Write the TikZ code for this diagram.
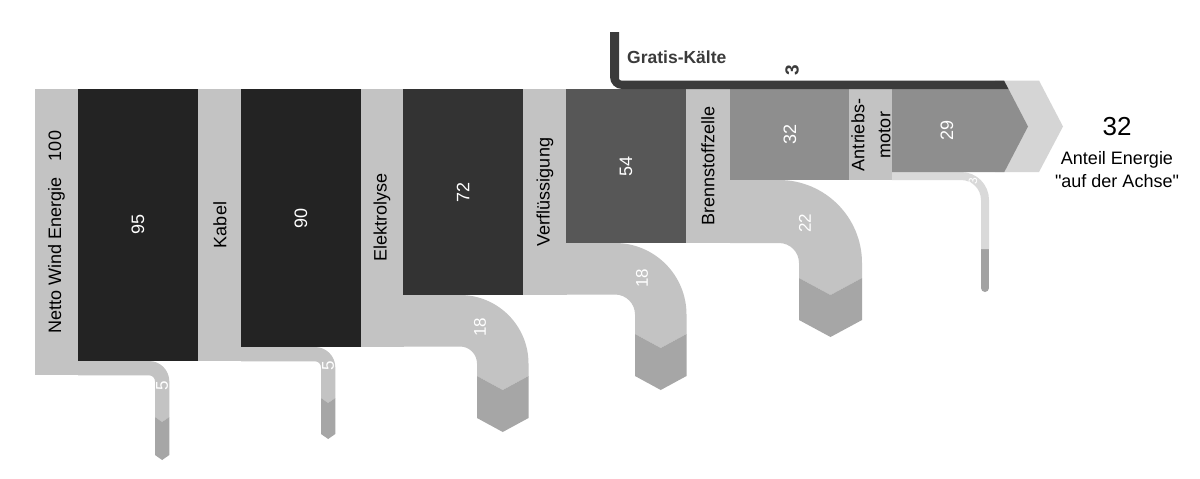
\documentclass[tikz,border=0pt]{standalone}
\usepackage{fontspec}
\setmainfont{Liberation Sans}
\newcommand{\sq}{\XeTeXglyph\XeTeXcharglyph"22\relax}
\definecolor{band}{HTML}{C3C3C3}
\definecolor{pipedarkc}{HTML}{A6A6A6}
\definecolor{boxA}{HTML}{232323}
\definecolor{boxB}{HTML}{333333}
\definecolor{boxC}{HTML}{575757}
\definecolor{boxD}{HTML}{8E8E8E}
\definecolor{gratis}{HTML}{3B3B3B}
\definecolor{arrowlight}{HTML}{D5D5D5}
\definecolor{lossSixLight}{HTML}{D9D9D9}
\definecolor{lossSixDark}{HTML}{A2A2A2}
\tikzset{
  pipelight/.style={fill=band},
  pipedark/.style={fill=pipedarkc},
  lbl/.style={inner sep=0pt, text=black, font=\fontsize{18}{26}\selectfont},
  num/.style={inner sep=0pt, text=white, font=\fontsize{18}{22}\selectfont},
  lossnum/.style={inner sep=0pt, text=white, font=\fontsize{17}{20}\selectfont},
}
% #1 xa, #2 yt, #3 w, #4 cx, #5 ri, #6 y1, #7 y2, #8 d
\newcommand{\losspipe}[8]{%
 \pgfmathsetmacro\pyb{#2+#3}%
 \pgfmathsetmacro\pro{#5+#3}%
 \pgfmathsetmacro\pcy{\pyb+#5}%
 \pgfmathsetmacro\pxi{#4+#5}%
 \pgfmathsetmacro\pxo{#4+\pro}%
 \pgfmathsetmacro\pxm{(\pxi+\pxo)/2}%
 \pgfmathsetmacro\pka{#4+0.5523*\pro}%
 \pgfmathsetmacro\pkb{\pcy-0.5523*\pro}%
 \pgfmathsetmacro\pkc{\pcy-0.5523*#5}%
 \pgfmathsetmacro\pkd{#4+0.5523*#5}%
 \pgfmathsetmacro\pva{#6+#8}%
 \pgfmathsetmacro\pvb{#7+#8}%
 \fill[pipelight] (#1,#2) -- (#4,#2) .. controls (\pka,#2) and (\pxo,\pkb) .. (\pxo,\pcy) -- (\pxo,#6) -- (\pxm,\pva) -- (\pxi,#6) -- (\pxi,\pcy) .. controls (\pxi,\pkc) and (\pkd,\pyb) .. (#4,\pyb) -- (#1,\pyb) -- cycle;
 \fill[pipedark] (\pxi,#6) -- (\pxm,\pva) -- (\pxo,#6) -- (\pxo,#7) -- (\pxm,\pvb) -- (\pxi,#7) -- cycle;
}
\begin{document}
\begin{tikzpicture}[x=1pt,y=-1pt]
\useasboundingbox (0,0) rectangle (1200,479);
\fill[white] (0,0) rectangle (1200,479);
% stage bands
\fill[band] (35,89) rectangle (78.5,375.3);
\fill[band] (197.5,89) rectangle (241.5,361.3);
\fill[band] (360.5,89) rectangle (403.5,346.5);
\fill[band] (522.5,89) rectangle (566.5,295);
\fill[band] (685.5,89) rectangle (730.5,243);
\fill[band] (848.5,89) rectangle (892.5,180);
% loss pipes
\losspipe{78}{361}{14.3}{149}{6}{417}{455}{5}
\losspipe{241}{347}{14.3}{315}{6}{398}{434}{5}
\losspipe{403}{295}{51.5}{460}{17}{376}{418}{14}
\losspipe{566}{243}{51.5}{615}{20}{334}{376}{14}
\losspipe{730}{180}{63}{779}{20}{278}{320}{17}
% small loss of the motor
\draw[lossSixDark, line width=8pt, line cap=round] (985,249) -- (985,288);
\draw[lossSixLight, line width=8pt] (892,176) -- (961,176) .. controls (974.3,176) and (985,186.7) .. (985,200) -- (985,249);
% boxes
\fill[boxA] (78,89) rectangle (198,361);
\fill[boxA] (241,89) rectangle (361,347);
\fill[boxB] (403,89) rectangle (523,295);
\fill[boxC] (566,89) rectangle (686,243);
\fill[boxD] (730,89) rectangle (849,180);
% final arrows
\fill[arrowlight] (995,80.5) -- (1039,80.5) -- (1063,126.5) -- (1039,172) -- (995,172) -- cycle;
\fill[boxD] (892,89) -- (1008.5,89) -- (1028,126.5) -- (1004.3,172) -- (892,172) -- cycle;
% gratis band
\fill[gratis] (610,32) -- (610,77) .. controls (610,83.6) and (615.4,89) .. (622,89) -- (1008.5,89) -- (1004,80.5) -- (621,80.5) .. controls (619.9,80.5) and (619,79.6) .. (619,78.5) -- (619,32) -- cycle;
% labels
\node[lbl, rotate=90] (netto) at (56.5,232) {Netto Wind Energie\hspace{16pt}100};
\node[lbl, rotate=90] (kabel) at (220,225) {Kabel};
\node[lbl, rotate=90] (elek) at (382,217) {Elektrolyse};
\node[lbl, rotate=90] (verf) at (545,192) {Verflüssigung};
\node[lbl, rotate=90] (brenn) at (708,166) {Brennstoffzelle};
\node[lbl, rotate=90, align=center] (antr) at (871,135) {Antriebs-\\motor};
% numbers
\node[num, rotate=90] (n95) at (138,224) {95};
\node[num, rotate=90] (n90) at (301,218) {90};
\node[num, rotate=90] (n72) at (463,192) {72};
\node[num, rotate=90] (n54) at (626,166) {54};
\node[num, rotate=90] (n32) at (790,134) {32};
\node[num, rotate=90] (n29) at (947,130) {29};
% loss numbers
\node[lossnum, rotate=90] (l1) at (162,386) {5};
\node[lossnum, rotate=90] (l2) at (328,366) {5};
\node[lossnum, rotate=90] (l3) at (480,327) {18};
\node[lossnum, rotate=90] (l4) at (642,278) {18};
\node[lossnum, rotate=90] (l5) at (805,223) {22};
\node[inner sep=0pt, text=white, font=\fontsize{12}{14}\selectfont, rotate=90] (l6) at (973,181) {3};
% gratis text
\node[inner sep=0pt, anchor=west, text=gratis, font=\bfseries\fontsize{17.5}{20}\selectfont] (gk) at (627,57) {Gratis-Kälte};
\node[inner sep=0pt, text=gratis, font=\bfseries\fontsize{19}{20}\selectfont, rotate=90] (g3) at (792,70) {3};
% result
\node[inner sep=0pt, font=\fontsize{26}{30}\selectfont] (tot) at (1117,127) {32};
\node[inner sep=0pt, align=center, font=\fontsize{18}{23}\selectfont] (anteil) at (1117,170) {Anteil Energie\\\sq auf der Achse\sq};
\end{tikzpicture}
\end{document}
